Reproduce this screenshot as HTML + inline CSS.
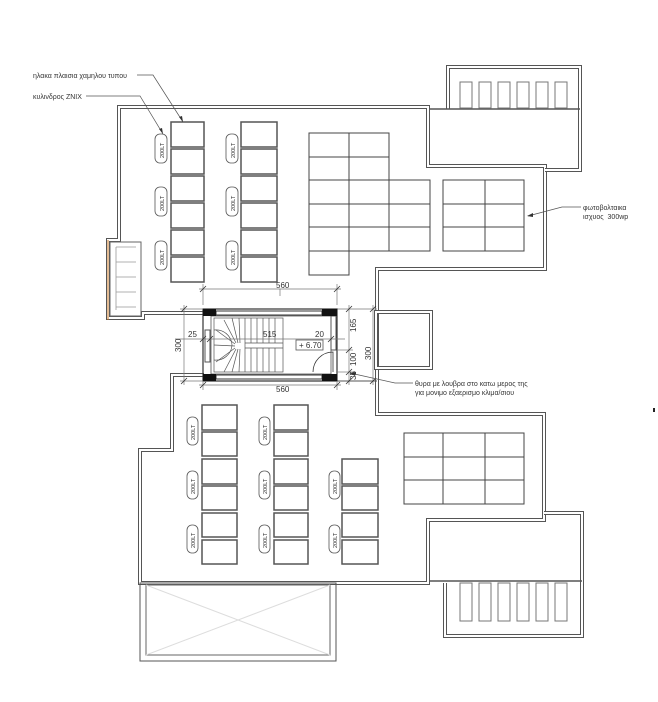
<!DOCTYPE html>
<html><head><meta charset="utf-8"><style>
html,body{margin:0;padding:0;background:#fff}
svg{display:block}
text{font-family:"Liberation Sans","DejaVu Sans",sans-serif;fill:#333}
</style></head><body>
<svg width="658" height="702" viewBox="0 0 658 702" xmlns="http://www.w3.org/2000/svg">
<g fill="none" stroke-linejoin="miter">
<path d="M203,313 L143,313 L143,318 L108,318 L108,240 L119,240 L119,107 L428,107 L428,166 L545,166 L545,269 L377,269 L377,414 L544,414 L544,520 L428,520 L428,583 L140,583 L140,450 L172,450 L172,375 L204,375" stroke="#555" stroke-width="4"/>
<path d="M203,313 L143,313 L143,318 L108,318 L108,240 L119,240 L119,107 L428,107 L428,166 L545,166 L545,269 L377,269 L377,414 L544,414 L544,520 L428,520 L428,583 L140,583 L140,450 L172,450 L172,375 L204,375" stroke="#fff" stroke-width="2"/>
<path d="M337,381 L377,381" stroke="#555" stroke-width="1"/>
<path d="M337,309 L377,309" stroke="#999" stroke-width="1"/>
<rect x="110" y="242" width="31" height="74" stroke="#666"/>
<g stroke="#999" stroke-width="0.8"><line x1="116" y1="247" x2="136" y2="247"/><line x1="116" y1="262" x2="136" y2="262"/><line x1="116" y1="277" x2="136" y2="277"/><line x1="116" y1="292" x2="136" y2="292"/><line x1="116" y1="307" x2="136" y2="307"/><line x1="116" y1="247" x2="116" y2="310"/></g>
<path d="M108,240 L108,320" stroke="#c87a2a" stroke-width="1"/>
<!-- top right box -->
<path d="M448,109 L448,67 L580,67 L580,170 L545,170" stroke="#555" stroke-width="4"/>
<path d="M448,109 L448,67 L580,67 L580,170 L545,170" stroke="#fff" stroke-width="2"/>
<line x1="430" y1="109" x2="580" y2="109" stroke="#555" stroke-width="1.5"/>
<g stroke="#777" stroke-width="1">
<rect x="460" y="82" width="12" height="26"/><rect x="479" y="82" width="12" height="26"/><rect x="498" y="82" width="12" height="26"/><rect x="517" y="82" width="12" height="26"/><rect x="536" y="82" width="12" height="26"/><rect x="555" y="82" width="12" height="26"/>
</g>
<!-- bottom right box -->
<path d="M544,513 L582,513 L582,636 L445,636 L445,583" stroke="#555" stroke-width="4"/>
<path d="M544,513 L582,513 L582,636 L445,636 L445,583" stroke="#fff" stroke-width="2"/>
<line x1="430" y1="581" x2="582" y2="581" stroke="#555" stroke-width="1.5"/>
<g stroke="#777" stroke-width="1">
<rect x="460" y="583" width="12" height="38"/><rect x="479" y="583" width="12" height="38"/><rect x="498" y="583" width="12" height="38"/><rect x="517" y="583" width="12" height="38"/><rect x="536" y="583" width="12" height="38"/><rect x="555" y="583" width="12" height="38"/>
</g>
<rect x="140" y="583" width="196" height="78" stroke="#555" stroke-width="1"/>
<rect x="146" y="585" width="184" height="70" stroke="#666" stroke-width="1"/>
<path d="M146,585 L330,655 M330,585 L146,655" stroke="#ddd" stroke-width="1"/>
<rect x="376" y="312" width="55" height="56" stroke="#555" stroke-width="4"/>
<rect x="376" y="312" width="55" height="56" stroke="#fff" stroke-width="2"/>
<g stroke="#444" stroke-width="1">
<rect x="309" y="133" width="80" height="47"/><line x1="349" y1="133" x2="349" y2="275"/><line x1="309" y1="157" x2="389" y2="157"/>
<rect x="309" y="180" width="121" height="71"/><line x1="389" y1="180" x2="389" y2="251"/><line x1="309" y1="204" x2="430" y2="204"/><line x1="309" y1="227" x2="430" y2="227"/>
<rect x="309" y="251" width="40" height="24"/>
<rect x="443" y="180" width="81" height="71"/><line x1="485" y1="180" x2="485" y2="251"/><line x1="443" y1="204" x2="524" y2="204"/><line x1="443" y1="227" x2="524" y2="227"/>
<rect x="404" y="433" width="120" height="71"/><line x1="443" y1="433" x2="443" y2="504"/><line x1="485" y1="433" x2="485" y2="504"/><line x1="404" y1="457" x2="524" y2="457"/><line x1="404" y1="480" x2="524" y2="480"/>
</g>
<g stroke="#555" stroke-width="1.5">
<rect x="171" y="122" width="33" height="25"/><rect x="171" y="149" width="33" height="25"/><rect x="171" y="176" width="33" height="25"/><rect x="171" y="203" width="33" height="25"/><rect x="171" y="230" width="33" height="25"/><rect x="171" y="257" width="33" height="25"/>
<rect x="241" y="122" width="36" height="25"/><rect x="241" y="149" width="36" height="25"/><rect x="241" y="176" width="36" height="25"/><rect x="241" y="203" width="36" height="25"/><rect x="241" y="230" width="36" height="25"/><rect x="241" y="257" width="36" height="25"/>
<rect x="202" y="405" width="35" height="25"/><rect x="202" y="432" width="35" height="24"/><rect x="202" y="459" width="35" height="25"/><rect x="202" y="486" width="35" height="24"/><rect x="202" y="513" width="35" height="24"/><rect x="202" y="540" width="35" height="24"/>
<rect x="274" y="405" width="34" height="25"/><rect x="274" y="432" width="34" height="24"/><rect x="274" y="459" width="34" height="25"/><rect x="274" y="486" width="34" height="24"/><rect x="274" y="513" width="34" height="24"/><rect x="274" y="540" width="34" height="24"/>
<rect x="342" y="459" width="36" height="25"/><rect x="342" y="486" width="36" height="24"/><rect x="342" y="513" width="36" height="24"/><rect x="342" y="540" width="36" height="24"/>
</g>
<g stroke="#555" stroke-width="0.8" fill="#fff">
<rect x="155" y="134" width="12" height="29" rx="5"/><rect x="155" y="187" width="12" height="29" rx="5"/><rect x="155" y="241" width="12" height="29" rx="5"/>
<rect x="226" y="134" width="12" height="29" rx="5"/><rect x="226" y="187" width="12" height="29" rx="5"/><rect x="226" y="241" width="12" height="29" rx="5"/>
<rect x="187" y="417" width="11" height="28" rx="5"/><rect x="187" y="471" width="11" height="28" rx="5"/><rect x="187" y="525" width="11" height="28" rx="5"/>
<rect x="259" y="417" width="11" height="28" rx="5"/><rect x="259" y="471" width="11" height="28" rx="5"/><rect x="259" y="525" width="11" height="28" rx="5"/>
<rect x="329" y="471" width="11" height="28" rx="5"/><rect x="329" y="525" width="11" height="28" rx="5"/>
</g>
<rect x="203" y="309" width="134" height="72" stroke="#333" stroke-width="1.2"/>
<rect x="216" y="311" width="106" height="4" stroke="#333" stroke-width="1"/>
<rect x="216" y="375" width="106" height="4" stroke="#333" stroke-width="1"/>
<rect x="211" y="316" width="120" height="58" stroke="#555" stroke-width="0.8"/>
<rect x="205" y="330" width="5" height="32" stroke="#555"/>
<rect x="331" y="316" width="5" height="34" stroke="#555"/>
<g stroke="#555" stroke-width="0.7">
<rect x="214" y="318" width="69" height="54"/>
<line x1="245" y1="343" x2="283" y2="343"/><line x1="245" y1="348" x2="283" y2="348"/>
<line x1="251" y1="318" x2="251" y2="343"/><line x1="257" y1="318" x2="257" y2="343"/><line x1="263" y1="318" x2="263" y2="343"/><line x1="269" y1="318" x2="269" y2="343"/><line x1="275" y1="318" x2="275" y2="343"/>
<line x1="251" y1="348" x2="251" y2="372"/><line x1="257" y1="348" x2="257" y2="372"/><line x1="263" y1="348" x2="263" y2="372"/><line x1="269" y1="348" x2="269" y2="372"/><line x1="275" y1="348" x2="275" y2="372"/>
<line x1="245" y1="318" x2="245" y2="372"/>
<line x1="239" y1="318" x2="240" y2="343"/><line x1="232" y1="318" x2="238" y2="343"/><line x1="224" y1="320" x2="236" y2="343"/><line x1="216" y1="330" x2="235" y2="344"/><line x1="214" y1="345" x2="235" y2="346"/>
<line x1="216" y1="362" x2="235" y2="348"/><line x1="224" y1="372" x2="236" y2="349"/><line x1="232" y1="372" x2="238" y2="349"/><line x1="239" y1="372" x2="240" y2="349"/>
<path d="M214,330 A16,16 0 0 1 232,345 A16,16 0 0 1 214,360"/>
</g>
<rect x="203" y="309" width="13" height="7" fill="#111" stroke="none"/>
<rect x="322" y="309" width="15" height="7" fill="#111" stroke="none"/>
<rect x="203" y="374" width="13" height="7" fill="#111" stroke="none"/>
<rect x="322" y="374" width="15" height="7" fill="#111" stroke="none"/>
<path d="M313,372 A20,20 0 0 1 333,352 L333,372" stroke="#333" stroke-width="0.8"/>
<rect x="296" y="340" width="27" height="10" stroke="#555" stroke-width="0.8"/>
<g stroke="#777" stroke-width="0.7">
<line x1="199" y1="289" x2="341" y2="289"/><line x1="203" y1="284" x2="203" y2="305"/><line x1="337" y1="284" x2="337" y2="305"/>
<line x1="199" y1="385" x2="341" y2="385"/><line x1="203" y1="381" x2="203" y2="390"/><line x1="337" y1="381" x2="337" y2="390"/>
<line x1="184" y1="305" x2="184" y2="385"/><line x1="180" y1="309" x2="203" y2="309"/><line x1="180" y1="381" x2="203" y2="381"/>
<line x1="175" y1="339" x2="345" y2="339"/>
<line x1="349" y1="305" x2="349" y2="385"/><line x1="373" y1="305" x2="373" y2="385"/>
<line x1="337" y1="350" x2="353" y2="350"/><line x1="337" y1="372" x2="353" y2="372"/>
<line x1="280" y1="289" x2="280" y2="296"/>
</g>
<g stroke="#333" stroke-width="0.8">
<line x1="200" y1="292" x2="206" y2="286"/><line x1="334" y1="292" x2="340" y2="286"/>
<line x1="200" y1="388" x2="206" y2="382"/><line x1="334" y1="388" x2="340" y2="382"/>
<line x1="181" y1="312" x2="187" y2="306"/><line x1="181" y1="384" x2="187" y2="378"/>
<line x1="346" y1="312" x2="352" y2="306"/><line x1="346" y1="353" x2="352" y2="347"/><line x1="346" y1="375" x2="352" y2="369"/><line x1="346" y1="384" x2="352" y2="378"/>
<line x1="370" y1="312" x2="376" y2="306"/><line x1="370" y1="384" x2="376" y2="378"/>
<line x1="200" y1="342" x2="206" y2="336"/><line x1="207" y1="342" x2="213" y2="336"/><line x1="328" y1="342" x2="334" y2="336"/>
</g>
<g stroke="#555" stroke-width="0.7">
<path d="M137,75 L153,75 L183,122"/><path d="M86,96 L140,96 L163,134"/>
<path d="M581,207 L562,207 L528,216"/>
<path d="M413,383 L395,383 L350,373"/>
</g>
<path d="M183,122 L179,117 L182,116 Z" fill="#333"/>
<path d="M163,134 L159,129 L162,128 Z" fill="#333"/>
<path d="M527,216 L533,213 L533,217 Z" fill="#333"/>
<path d="M350,373 L356,372 L355,376 Z" fill="#333"/>
</g>
<g font-size="7">
<text x="33" y="78">ηλακα πλαισια χαμηλου τυπου</text>
<text x="33" y="99">κυλινδρος ZNIX</text>
<text x="583" y="210">φωτοβολταικα</text>
<text x="583" y="219">ισχυος &#160;300wp</text>
<text x="415" y="386">θυρα με λουβρα στο κατω μερος της</text>
<text x="415" y="395">για μονιμο εξαερισμο κλιμα/σιου</text>
</g>
<g font-size="8">
<text x="276" y="288">560</text>
<text x="276" y="392">560</text>
<text x="263" y="337">515</text>
<text x="315" y="337">20</text>
<text x="188" y="337">25</text>
<text x="299" y="348">+ 6.70</text>
<text transform="translate(181,352) rotate(-90)">300</text>
<text transform="translate(356,332) rotate(-90)">165</text>
<text transform="translate(356,366) rotate(-90)">100</text>
<text transform="translate(356,380) rotate(-90)">35</text>
<text transform="translate(371,360) rotate(-90)">300</text>
</g>
<g font-size="5.5">
<text transform="translate(164,158) rotate(-90)">200LT</text><text transform="translate(164,211) rotate(-90)">200LT</text><text transform="translate(164,265) rotate(-90)">200LT</text>
<text transform="translate(235,158) rotate(-90)">200LT</text><text transform="translate(235,211) rotate(-90)">200LT</text><text transform="translate(235,265) rotate(-90)">200LT</text>
<text transform="translate(195,440) rotate(-90)">200LT</text><text transform="translate(195,494) rotate(-90)">200LT</text><text transform="translate(195,548) rotate(-90)">200LT</text>
<text transform="translate(267,440) rotate(-90)">200LT</text><text transform="translate(267,494) rotate(-90)">200LT</text><text transform="translate(267,548) rotate(-90)">200LT</text>
<text transform="translate(337,494) rotate(-90)">200LT</text><text transform="translate(337,548) rotate(-90)">200LT</text>
</g>
<rect x="653" y="408" width="2" height="4" fill="#222"/>
</svg>
</body></html>
